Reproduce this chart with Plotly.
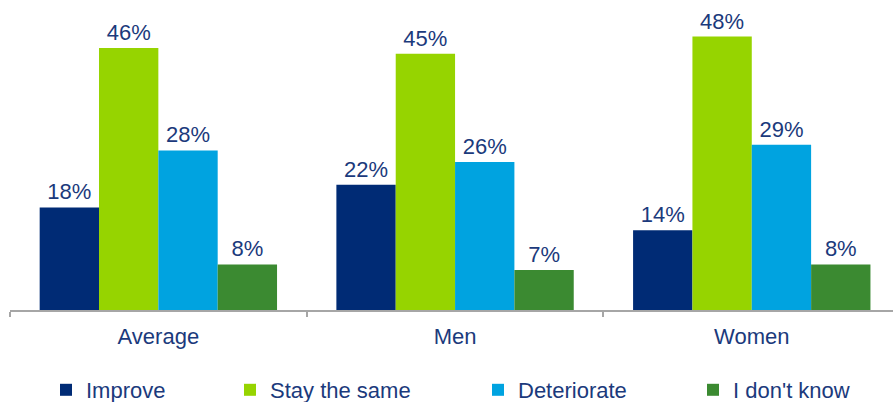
import plotly.graph_objects as go

categories = ["Average", "Men", "Women"]
series_names = ["Improve", "Stay the same", "Deteriorate", "I don't know"]
improve = [18, 22, 14]
stay_same = [46, 45, 48]
deteriorate = [28, 26, 29]
dont_know = [8, 7, 8]
series_values = [improve, stay_same, deteriorate, dont_know]
colors = ["#002B75", "#96D400", "#00A3E0", "#3B8A31"]

TEXT = "#1B3A7C"
FONT = "Liberation Sans, Arial, sans-serif"

legend_names = ["legend", "legend2", "legend3", "legend4"]
legend_px = [46, 230, 478, 693]

fig = go.Figure()
for name, vals, col, lg in zip(series_names, series_values, colors, legend_names):
    fig.add_trace(go.Bar(
        x=categories, y=vals, name=name, marker_color=col,
        marker_line_width=0,
        text=[f"{v}%" for v in vals], textposition="outside",
        textfont=dict(size=22, color=TEXT, family=FONT),
        cliponaxis=False, legend=lg,
    ))

W, H = 893, 402
ml, mr, mt, mb = 10, 0, 28, 92
layout_legends = {}
for lg, px in zip(legend_names, legend_px):
    layout_legends[lg] = dict(
        xref="container", yref="container",
        x=px / W, xanchor="left", y=(H - 390) / H, yanchor="middle",
        orientation="h", font=dict(size=22, color=TEXT, family=FONT),
        bgcolor="rgba(0,0,0,0)", itemclick=False, itemdoubleclick=False,
    )

fig.update_layout(
    width=W, height=H,
    margin=dict(l=ml, r=mr, t=mt, b=mb, pad=0, autoexpand=False),
    paper_bgcolor="white", plot_bgcolor="white",
    barmode="group", bargap=0.2, bargroupgap=0,
    showlegend=True,
    font=dict(family=FONT, color=TEXT, size=22),
    **layout_legends,
)
fig.update_xaxes(
    range=[-0.5, 2.476], showline=True, linecolor="#A6A6A6", linewidth=1.5,
    ticks="outside", ticklen=5, tickcolor="#A6A6A6", tickwidth=1.5,
    tickson="boundaries", showgrid=False, zeroline=False, automargin=False,
    tickfont=dict(size=22, color=TEXT, family=FONT), ticklabelstandoff=6,
)
fig.update_yaxes(range=[0, 49.5], visible=False, showgrid=False, zeroline=False,
                 automargin=False)

fig.write_html("out.html")
